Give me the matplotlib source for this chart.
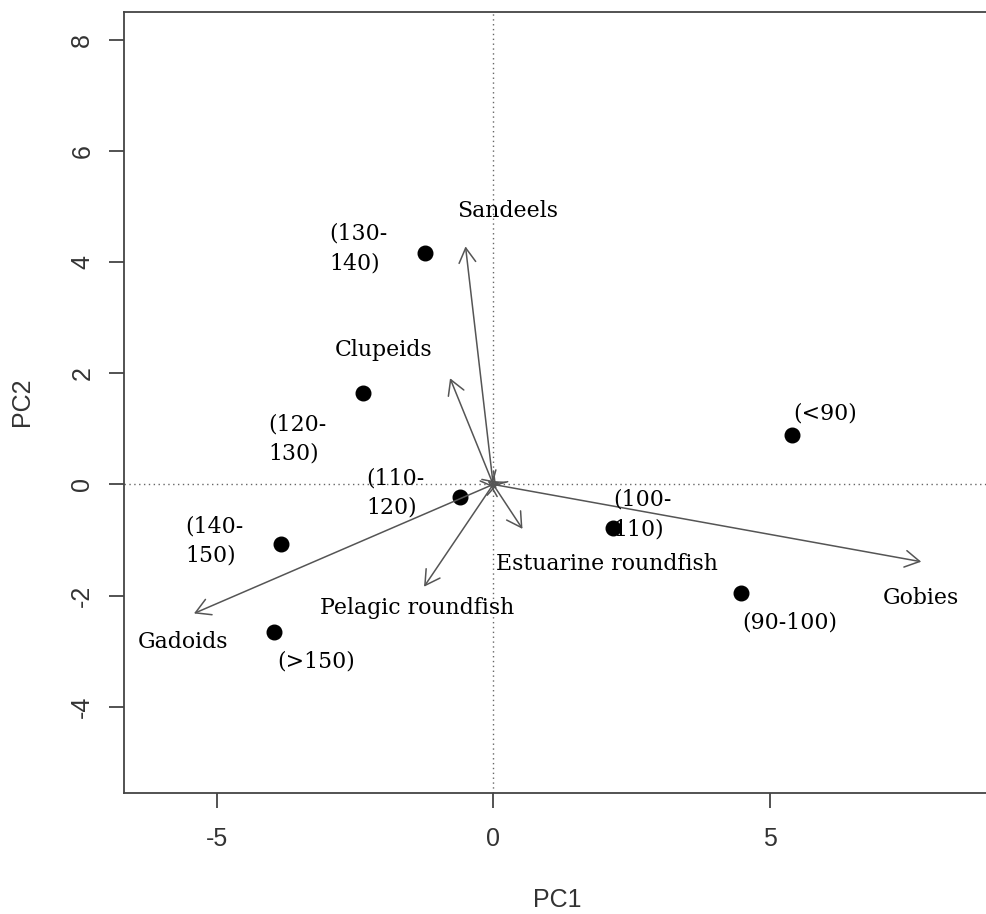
import matplotlib.pyplot as plt

plt.rcParams['axes.unicode_minus'] = False

# sample scores (size classes)
classes = ['(<90)', '(90-100)', '(100-110)', '(110-120)', '(120-130)',
           '(130-140)', '(140-150)', '(>150)']
pc1 = [5.40, 4.48, 2.16, -0.60, -2.36, -1.23, -3.84, -3.96]
pc2 = [0.88, -1.95, -0.78, -0.22, 1.65, 4.16, -1.08, -2.65]

# label text and anchor (left / last baseline) for each class
class_text = ['(<90)', '(90-100)', '(100-\n110)', '(110-\n120)', '(120-\n130)',
              '(130-\n140)', '(140-\n150)', '(>150)']
class_lx = [5.42, 4.50, 2.17, -2.30, -4.07, -2.96, -5.57, -3.90]
class_ly = [1.16, -2.59, -0.91, -0.52, 0.44, 3.87, -1.39, -3.29]

# prey loadings
prey = ['Sandeels', 'Clupeids', 'Gadoids', 'Pelagic roundfish',
        'Estuarine roundfish', 'Gobies']
load1 = [-0.50, -0.78, -5.41, -1.25, 0.53, 7.74]
load2 = [4.28, 1.91, -2.32, -1.84, -0.80, -1.39]
prey_lx = [-0.66, -2.86, -6.42, -3.13, 0.06, 7.04]
prey_ly = [4.80, 2.31, -2.95, -2.33, -1.54, -2.15]

# tiny unlabeled loadings near the origin
minor1 = [0.12, -0.10, 0.06, -0.05]
minor2 = [0.04, 0.06, -0.08, -0.05]

fig = plt.figure(figsize=(9.87, 9.14), dpi=100)
ax = fig.add_axes([0.1259, 0.1329, 0.8781, 0.8543])

ax.set_xlim(-6.67, 9.0)
ax.set_ylim(-5.54, 8.50)

ax.axhline(0, color='#666666', lw=1.0, ls=(0, (1, 2.5)), zorder=1)
ax.axvline(0, color='#666666', lw=1.0, ls=(0, (1, 2.5)), zorder=1)

ax.plot(pc1, pc2, 'o', color='black', markersize=10.5, zorder=3)

arrow_style = dict(arrowstyle='->,head_length=1.05,head_width=0.6',
                   color='#555555', lw=1.1, shrinkA=0, shrinkB=0)
for x, y in zip(load1 + minor1, load2 + minor2):
    ax.annotate('', xy=(x, y), xytext=(0, 0), arrowprops=arrow_style,
                annotation_clip=False)
for t, x, y in zip(class_text, class_lx, class_ly):
    ax.text(x, y, t, family='DejaVu Serif', fontsize=15.8, ha='left',
            va='baseline', linespacing=1.43, color='black')
for t, x, y in zip(prey, prey_lx, prey_ly):
    ax.text(x, y, t, family='DejaVu Serif', fontsize=15.8, ha='left',
            va='baseline', color='black')

ax.set_xticks([-5, 0, 5])
ax.set_yticks([-4, -2, 0, 2, 4, 6, 8])
for s in ax.spines.values():
    s.set_color('#444444')
    s.set_linewidth(1.3)
ax.spines['right'].set_visible(False)
ax.tick_params(length=10.6, width=1.3, color='#444444', labelcolor='#333333',
               labelsize=18)
ax.tick_params(axis='x', pad=14)
ax.tick_params(axis='y', pad=11)
for lab in ax.get_xticklabels():
    lab.set_family('Liberation Sans')
for lab in ax.get_yticklabels():
    lab.set_family('Liberation Sans')
    lab.set_rotation(90)
    lab.set_va('center')
    lab.set_ha('right')

ax.set_xlabel('PC1', family='Liberation Sans', fontsize=18, color='#333333',
              va='center')
ax.set_ylabel('PC2', family='Liberation Sans', fontsize=18, color='#333333',
              va='center')
ax.xaxis.set_label_coords(0.5, -0.1377)
ax.yaxis.set_label_coords(-0.118, 0.5)

fig.savefig('out.png', dpi=100)
